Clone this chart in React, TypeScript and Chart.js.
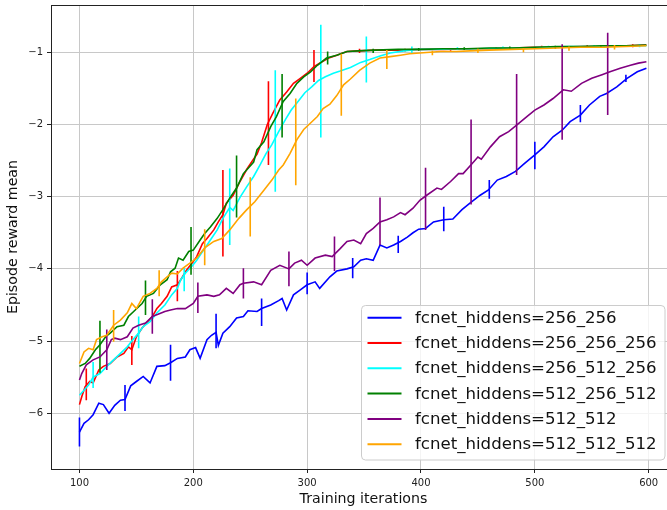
import React, { useEffect, useRef } from 'react';
import { Chart, registerables } from 'chart.js';

Chart.register(...registerables);

const xTicks = [100, 200, 300, 400, 500, 600];
const yTicks = [-6, -5, -4, -3, -2, -1];
const seriesNames = [
  'fcnet_hiddens=256_256',
  'fcnet_hiddens=256_256_256',
  'fcnet_hiddens=256_512_256',
  'fcnet_hiddens=512_256_512',
  'fcnet_hiddens=512_512',
  'fcnet_hiddens=512_512_512',
];
const seriesColors = ['#0000ff', '#ff0000', '#00ffff', '#008000', '#800080', '#ffa500'];

// 256_256 (blue)
const blueX = [100,104,108,112,117,121,126,131,136,140,145,150,156,162,168,175,180,186,193,197,202,206,212,216,220,222,226,232,238,244,248,256,260,268,275,278,282,288,294,300,307,311,320,326,335,341,347,352,358,364,370,376,382,388,393,398,404,411,420,428,436,443,452,459,467,475,483,491,500,508,516,524,531,540,548,557,563,572,581,590,598];
const blueY = [-6.26,-6.14,-6.09,-6.02,-5.86,-5.88,-6.00,-5.89,-5.82,-5.81,-5.62,-5.56,-5.49,-5.58,-5.35,-5.34,-5.30,-5.24,-5.22,-5.12,-5.09,-5.24,-4.98,-4.92,-4.88,-5.06,-4.89,-4.80,-4.68,-4.66,-4.58,-4.59,-4.55,-4.50,-4.44,-4.41,-4.57,-4.36,-4.29,-4.22,-4.18,-4.27,-4.11,-4.03,-4.00,-3.97,-3.88,-3.86,-3.88,-3.67,-3.71,-3.67,-3.62,-3.56,-3.50,-3.45,-3.44,-3.35,-3.32,-3.31,-3.18,-3.09,-2.98,-2.91,-2.77,-2.72,-2.65,-2.54,-2.42,-2.31,-2.17,-2.08,-1.96,-1.87,-1.73,-1.61,-1.57,-1.48,-1.36,-1.27,-1.22];
const blueErrX = [100,140,180,220,260,300,340,380,420,460,500,540,580];
const blueErrY = [-6.26,-5.79,-5.30,-4.86,-4.60,-4.20,-3.99,-3.66,-3.31,-2.90,-2.43,-1.85,-1.36];
const blueErr = [0.2,0.18,0.25,0.24,0.19,0.15,0.14,0.12,0.17,0.13,0.19,0.12,0.05];

// 256_256_256 (red)
const redX = [100,102,105,109,112,117,121,127,133,139,143,146,150,155,159,164,168,172,177,181,186,189,194,199,203,208,212,218,222,226,229,235,241,247,252,256,260,265,270,276,282,288,294,300,306,311,319,326,335,345,360,380,400,420,440,460,480,500,520,540,560,580,598];
const redY = [-5.88,-5.77,-5.63,-5.56,-5.58,-5.40,-5.35,-5.31,-5.22,-5.17,-5.08,-5.12,-4.94,-4.82,-4.75,-4.66,-4.55,-4.48,-4.38,-4.25,-4.22,-4.15,-4.02,-3.92,-3.83,-3.65,-3.58,-3.46,-3.35,-3.25,-3.09,-2.98,-2.79,-2.62,-2.50,-2.41,-2.25,-2.00,-1.84,-1.66,-1.55,-1.43,-1.36,-1.29,-1.20,-1.15,-1.08,-1.04,-0.99,-0.98,-0.97,-0.97,-0.96,-0.96,-0.95,-0.95,-0.94,-0.93,-0.93,-0.92,-0.92,-0.91,-0.90];
const redErrX = [106,146,186,226,266,306,346,386,426,466,506,546,586];
const redErrY = [-5.60,-5.13,-4.24,-3.23,-1.98,-1.19,-0.98,-0.97,-0.96,-0.95,-0.93,-0.92,-0.91];
const redErr = [0.22,0.2,0.21,0.6,0.58,0.22,0.03,0.02,0.02,0.02,0.02,0.02,0.02];

// 256_512_256 (cyan)
const cyanX = [100,104,108,112,118,124,130,136,142,147,152,156,162,168,175,181,186,189,193,199,203,209,215,221,226,232,235,241,247,253,259,264,269,275,281,286,292,298,304,310,316,323,329,338,347,355,364,373,385,396,410,430,450,470,490,510,530,550,570,590,598];
const cyanY = [-5.75,-5.68,-5.61,-5.50,-5.45,-5.35,-5.26,-5.17,-5.08,-4.98,-4.89,-4.80,-4.73,-4.61,-4.50,-4.36,-4.27,-4.15,-4.06,-3.96,-3.88,-3.74,-3.60,-3.46,-3.30,-3.15,-3.19,-3.01,-2.86,-2.72,-2.55,-2.40,-2.28,-2.10,-1.93,-1.80,-1.68,-1.56,-1.48,-1.39,-1.34,-1.29,-1.26,-1.21,-1.14,-1.10,-1.05,-1.01,-0.98,-0.96,-0.96,-0.95,-0.95,-0.94,-0.94,-0.93,-0.92,-0.92,-0.91,-0.91,-0.91];
const cyanErrX = [112,152,192,232,272,312,352,392,432,472,512,552,592];
const cyanErrY = [-5.47,-4.88,-4.15,-3.14,-2.09,-1.40,-1.10,-0.97,-0.95,-0.94,-0.93,-0.92,-0.91];
const cyanErr = [0.18,0.22,0.16,0.53,0.84,0.78,0.32,0.05,0.02,0.02,0.02,0.02,0.02];

// 512_256_512 (green)
const greenX = [100,105,109,114,118,123,127,133,139,143,149,155,159,165,171,177,180,184,187,191,196,200,206,210,215,221,226,232,238,244,248,253,256,262,268,273,279,285,291,297,303,309,317,326,335,345,360,380,400,420,440,460,480,500,520,540,560,580,598];
const greenY = [-5.35,-5.31,-5.24,-5.12,-5.05,-4.94,-4.89,-4.80,-4.78,-4.66,-4.57,-4.48,-4.38,-4.34,-4.22,-4.15,-4.04,-3.99,-3.85,-3.88,-3.76,-3.74,-3.60,-3.51,-3.42,-3.30,-3.18,-3.02,-2.88,-2.68,-2.61,-2.52,-2.35,-2.24,-2.03,-1.89,-1.68,-1.57,-1.43,-1.34,-1.27,-1.18,-1.08,-1.04,-0.99,-0.98,-0.97,-0.96,-0.96,-0.95,-0.95,-0.94,-0.94,-0.93,-0.92,-0.92,-0.91,-0.91,-0.90];
const greenErrX = [118,158,198,238,278,318,358,398,438,478,518,558];
const greenErrY = [-5.08,-4.40,-3.75,-2.86,-1.74,-1.08,-0.98,-0.96,-0.95,-0.94,-0.93,-0.92];
const greenErr = [0.36,0.24,0.33,0.43,0.44,0.09,0.03,0.02,0.02,0.02,0.02,0.02];

// 512_512 (purple)
const purpleX = [100,102,106,112,118,124,128,131,136,142,147,152,158,164,169,175,180,186,193,200,204,212,218,223,229,235,241,244,253,260,268,276,284,289,295,300,307,316,322,329,335,341,347,352,358,364,370,376,382,386,393,399,405,414,418,426,433,437,445,450,453,461,469,477,484,493,500,508,516,525,532,541,550,559,566,575,584,591,598];
const purpleY = [-5.54,-5.45,-5.33,-5.26,-5.22,-5.12,-4.98,-4.96,-4.98,-4.94,-4.82,-4.78,-4.75,-4.66,-4.63,-4.59,-4.57,-4.55,-4.55,-4.48,-4.38,-4.36,-4.38,-4.36,-4.27,-4.34,-4.22,-4.20,-4.18,-4.22,-4.02,-3.95,-4.00,-3.92,-3.88,-3.95,-3.85,-3.81,-3.83,-3.72,-3.62,-3.60,-3.65,-3.51,-3.44,-3.35,-3.32,-3.28,-3.22,-3.25,-3.16,-3.05,-2.98,-2.88,-2.90,-2.79,-2.68,-2.68,-2.54,-2.45,-2.48,-2.31,-2.17,-2.10,-2.01,-1.89,-1.80,-1.73,-1.64,-1.52,-1.54,-1.43,-1.36,-1.31,-1.27,-1.22,-1.18,-1.15,-1.13];
const purpleErrX = [124,164,204,244,284,324,364,404,444,484,524,564];
const purpleErrY = [-5.12,-4.66,-4.40,-4.20,-4.00,-3.79,-3.34,-3.03,-2.52,-2.00,-1.55,-1.30];
const purpleErr = [0.28,0.24,0.21,0.21,0.24,0.24,0.33,0.43,0.59,0.70,0.66,0.57];

// 512_512_512 (orange)
const orangeX = [100,104,108,112,115,120,124,130,136,142,146,150,156,162,168,172,177,181,186,191,197,203,210,218,225,232,240,247,254,262,269,275,279,285,291,297,303,309,314,320,326,332,338,346,355,364,373,382,390,399,408,417,431,443,460,480,500,520,540,560,580,598];
const orangeY = [-5.31,-5.15,-5.10,-5.12,-4.98,-4.94,-4.92,-4.78,-4.71,-4.61,-4.48,-4.55,-4.38,-4.34,-4.27,-4.18,-4.11,-4.06,-4.07,-3.99,-3.92,-3.85,-3.71,-3.62,-3.58,-3.46,-3.30,-3.18,-3.07,-2.91,-2.77,-2.63,-2.56,-2.40,-2.21,-2.07,-1.98,-1.89,-1.78,-1.72,-1.60,-1.45,-1.37,-1.25,-1.15,-1.08,-1.06,-1.04,-1.02,-1.01,-1.00,-0.99,-0.99,-0.98,-0.97,-0.96,-0.95,-0.94,-0.93,-0.93,-0.92,-0.91];
const orangeErrX = [130,170,210,250,290,330,370,410,450,490,530,570];
const orangeErrY = [-4.79,-4.20,-3.70,-3.14,-2.24,-1.45,-1.10,-1.01,-0.98,-0.97,-0.95,-0.93];
const orangeErr = [0.22,0.18,0.25,0.41,0.6,0.43,0.13,0.03,0.03,0.03,0.03,0.03];

const seriesX = [blueX, redX, cyanX, greenX, purpleX, orangeX];
const seriesY = [blueY, redY, cyanY, greenY, purpleY, orangeY];
const errX = [blueErrX, redErrX, cyanErrX, greenErrX, purpleErrX, orangeErrX];
const errY = [blueErrY, redErrY, cyanErrY, greenErrY, purpleErrY, orangeErrY];
const errE = [blueErr, redErr, cyanErr, greenErr, purpleErr, orangeErr];

const FONT = '"DejaVu Sans", "Liberation Sans", sans-serif';

export default function App() {
  const ref = useRef<HTMLCanvasElement | null>(null);

  useEffect(() => {
    if (!ref.current) return;
    const datasets: any[] = [];
    seriesNames.forEach((name, i) => {
      datasets.push({
        label: name,
        data: seriesX[i].map((x, k) => ({ x, y: seriesY[i][k] })),
        borderColor: seriesColors[i],
        backgroundColor: seriesColors[i],
        borderWidth: 1.6,
        pointRadius: 0,
        tension: 0,
        fill: false,
        order: 5 - i,
      });
      const bars: any[] = [];
      errX[i].forEach((x, k) => {
        bars.push({ x, y: errY[i][k] - errE[i][k] });
        bars.push({ x, y: errY[i][k] + errE[i][k] });
        bars.push({ x, y: null });
      });
      datasets.push({
        label: name + ' err',
        data: bars,
        borderColor: seriesColors[i],
        borderWidth: 1.6,
        pointRadius: 0,
        spanGaps: false,
        fill: false,
        order: 5 - i,
      });
    });

    const overlay = {
      id: 'overlay',
      afterDraw(chart: any) {
        const ctx = chart.ctx;
        const { left, right, top } = chart.chartArea;
        ctx.save();
        // top spine
        ctx.strokeStyle = '#222';
        ctx.lineWidth = 1;
        ctx.beginPath();
        ctx.moveTo(left, Math.round(top) + 0.5);
        ctx.lineTo(right, Math.round(top) + 0.5);
        ctx.stroke();
        // legend
        const bx = 361.5, by = 305.5, bw = 303.5, bh = 154.5;
        ctx.beginPath();
        ctx.roundRect(bx, by, bw, bh, 4);
        ctx.fillStyle = 'rgba(255,255,255,0.8)';
        ctx.fill();
        ctx.strokeStyle = '#cccccc';
        ctx.lineWidth = 1;
        ctx.stroke();
        ctx.font = '16.6px ' + FONT;
        ctx.textBaseline = 'middle';
        ctx.textAlign = 'left';
        seriesNames.forEach((n, i) => {
          const y = 317.7 + 25.3 * i;
          ctx.strokeStyle = seriesColors[i];
          ctx.lineWidth = 2;
          ctx.beginPath();
          ctx.moveTo(367.5, y);
          ctx.lineTo(401.5, y);
          ctx.stroke();
          ctx.fillStyle = '#111';
          ctx.fillText(n, 415, y + 0.6);
        });
        ctx.restore();
      },
    };

    const chart = new Chart(ref.current, {
      type: 'line',
      data: { datasets },
      options: {
        responsive: false,
        maintainAspectRatio: false,
        animation: false,
        layout: { padding: { top: 5, left: 0, right: 0, bottom: 0 } },
        plugins: { legend: { display: false }, tooltip: { enabled: false } },
        scales: {
          x: {
            type: 'linear',
            min: 75,
            max: 624,
            afterBuildTicks: (s: any) => { s.ticks = xTicks.map((v) => ({ value: v })); },
            afterFit: (s: any) => { s.height = 41; s.paddingLeft = 0; s.paddingRight = 0; },
            grid: { color: '#c8c8c8', lineWidth: 1, drawTicks: true, tickLength: 4, tickColor: '#222' },
            border: { display: true, color: '#222', width: 1 },
            ticks: {
              font: { family: FONT, size: 10 },
              color: '#222',
              padding: 4,
              maxRotation: 0,
              autoSkip: false,
              callback: (v: any) => String(v),
            },
            title: {
              display: true,
              text: 'Training iterations',
              font: { family: FONT, size: 14.2 },
              color: '#111',
              padding: { top: 0, bottom: 2.5 },
            },
          },
          y: {
            type: 'linear',
            min: -6.772,
            max: -0.345,
            afterBuildTicks: (s: any) => { s.ticks = yTicks.map((v) => ({ value: v })); },
            afterFit: (s: any) => { s.width = 51; s.paddingTop = 0; s.paddingBottom = 0; },
            grid: { color: '#c8c8c8', lineWidth: 1, drawTicks: true, tickLength: 4, tickColor: '#222' },
            border: { display: true, color: '#222', width: 1 },
            ticks: {
              font: { family: FONT, size: 10 },
              color: '#222',
              padding: 4,
              autoSkip: false,
              callback: (v: any) => (v < 0 ? '\u2212' + Math.abs(v) : String(v)),
            },
            title: {
              display: true,
              text: 'Episode reward mean',
              font: { family: FONT, size: 14.2 },
              color: '#111',
              padding: { top: 5.2, bottom: 0 },
            },
          },
        },
      },
      plugins: [overlay],
    });
    return () => chart.destroy();
  }, []);

  return (
    <div style={{ position: 'absolute', left: 0, top: 0, width: 667, height: 510, overflow: 'hidden', background: '#fff' }}>
      <canvas ref={ref} width={676} height={510} style={{ display: 'block' }} />
    </div>
  );
}
